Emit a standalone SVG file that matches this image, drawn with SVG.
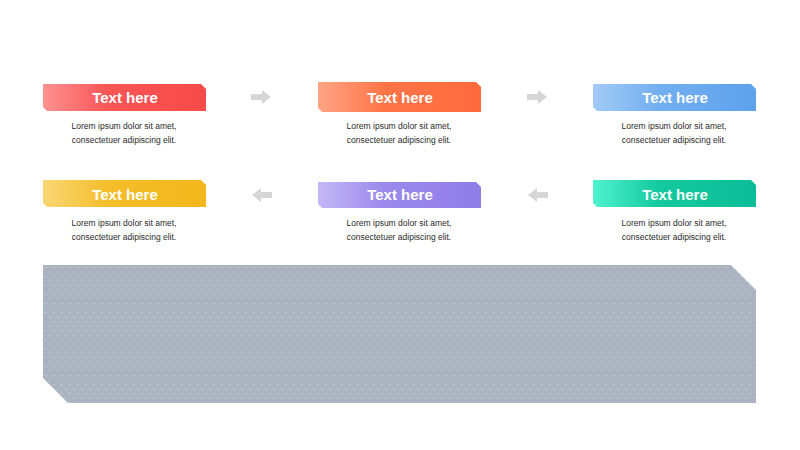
<svg xmlns="http://www.w3.org/2000/svg" width="800" height="450" viewBox="0 0 800 450">
<defs>
<linearGradient id="gRed" x1="0" y1="0" x2="1" y2="0"><stop offset="0" stop-color="#fd9191"/><stop offset="0.4" stop-color="#f95555"/><stop offset="1" stop-color="#f74a4a"/></linearGradient>
<linearGradient id="gOrange" x1="0" y1="0" x2="1" y2="0"><stop offset="0" stop-color="#ffa585"/><stop offset="0.4" stop-color="#ff7548"/><stop offset="1" stop-color="#ff6a3d"/></linearGradient>
<linearGradient id="gBlue" x1="0" y1="0" x2="1" y2="0"><stop offset="0" stop-color="#a3cbf6"/><stop offset="0.4" stop-color="#72aff0"/><stop offset="1" stop-color="#5ea2ec"/></linearGradient>
<linearGradient id="gYellow" x1="0" y1="0" x2="1" y2="0"><stop offset="0" stop-color="#f9d775"/><stop offset="0.4" stop-color="#f4be2a"/><stop offset="1" stop-color="#f2b71c"/></linearGradient>
<linearGradient id="gPurple" x1="0" y1="0" x2="1" y2="0"><stop offset="0" stop-color="#c3b8f6"/><stop offset="0.4" stop-color="#9b8aec"/><stop offset="1" stop-color="#8f7de8"/></linearGradient>
<linearGradient id="gTeal" x1="0" y1="0" x2="1" y2="0"><stop offset="0" stop-color="#4ff2cf"/><stop offset="0.4" stop-color="#14c9a0"/><stop offset="1" stop-color="#0bbd96"/></linearGradient>
<pattern id="dots" x="43" y="265" width="8" height="9" patternUnits="userSpaceOnUse">
<rect width="8" height="9" fill="#abb3c0"/>
<rect x="2" y="2" width="1.2" height="1.2" fill="#d4d9e1"/>
<rect x="6" y="6.5" width="1.2" height="1.2" fill="#c6ccd6"/>
</pattern>
<path id="banner" d="M0 0 H158 L163 5 V27 H4 L0 23 Z"/>
<path id="arrR" d="M0 4 H11 V0 L20 7 L11 14 V10 H0 Z"/>
<path id="arrL" d="M20 4 H9 V0 L0 7 L9 14 V10 H20 Z"/>
</defs>
<style>
.title{font-family:"Liberation Sans",Arial,sans-serif;font-weight:bold;font-size:15px;fill:#ffffff;text-anchor:middle}
.body{font-family:"Liberation Sans",Arial,sans-serif;font-size:8.5px;fill:#2a2a2a;text-anchor:middle}
.arr{fill:#d6d6d6}
</style>
<rect width="800" height="450" fill="#ffffff"/>
<g id="connectors">
<use href="#arrR" class="arr" x="251" y="90"/>
<use href="#arrR" class="arr" x="527" y="90"/>
<use href="#arrL" class="arr" x="252" y="188"/>
<use href="#arrL" class="arr" x="528" y="188"/>
</g>
<g id="node1">
<use href="#banner" x="43" y="84" fill="url(#gRed)"/>
<text class="title" x="125" y="103">Text here</text>
<text class="body" x="124" y="129">Lorem ipsum dolor sit amet,</text>
<text class="body" x="124" y="143">consectetuer adipiscing elit.</text>
</g>
<g id="node2">
<path d="M318 82 H476 L481 87 V112 H322 L318 108 Z" fill="url(#gOrange)"/>
<text class="title" x="400" y="103">Text here</text>
<text class="body" x="399" y="129">Lorem ipsum dolor sit amet,</text>
<text class="body" x="399" y="143">consectetuer adipiscing elit.</text>
</g>
<g id="node3">
<use href="#banner" x="593" y="84" fill="url(#gBlue)"/>
<text class="title" x="675" y="103">Text here</text>
<text class="body" x="674" y="129">Lorem ipsum dolor sit amet,</text>
<text class="body" x="674" y="143">consectetuer adipiscing elit.</text>
</g>
<g id="node4">
<use href="#banner" x="43" y="180" fill="url(#gYellow)"/>
<text class="title" x="125" y="200">Text here</text>
<text class="body" x="124" y="226">Lorem ipsum dolor sit amet,</text>
<text class="body" x="124" y="240">consectetuer adipiscing elit.</text>
</g>
<g id="node5">
<path d="M318 182 H476 L481 187 V208 H322 L318 204 Z" fill="url(#gPurple)"/>
<text class="title" x="400" y="200">Text here</text>
<text class="body" x="399" y="226">Lorem ipsum dolor sit amet,</text>
<text class="body" x="399" y="240">consectetuer adipiscing elit.</text>
</g>
<g id="node6">
<use href="#banner" x="593" y="180" fill="url(#gTeal)"/>
<text class="title" x="675" y="200">Text here</text>
<text class="body" x="674" y="226">Lorem ipsum dolor sit amet,</text>
<text class="body" x="674" y="240">consectetuer adipiscing elit.</text>
</g>
<g id="panel">
<path d="M43 265 H731 L756 290 V403 H68 L43 378 Z" fill="url(#dots)"/>
</g>
</svg>
